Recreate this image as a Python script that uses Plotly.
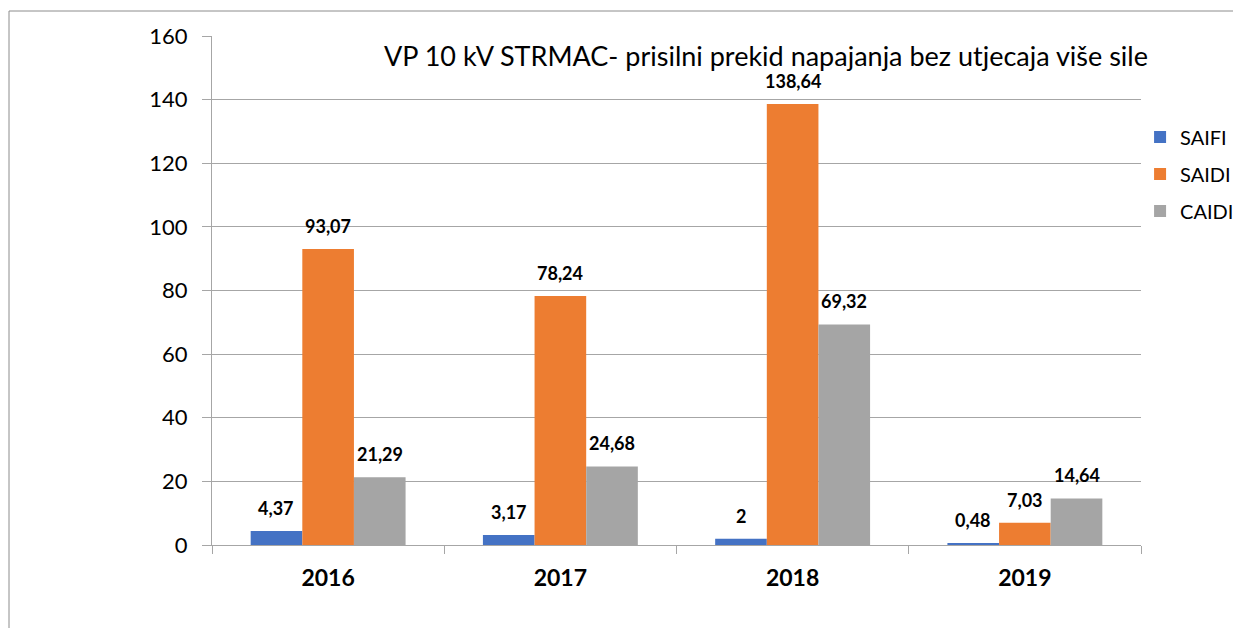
import plotly.graph_objects as go

years = ["2016", "2017", "2018", "2019"]
series_names = ["SAIFI", "SAIDI", "CAIDI"]
saifi = [4.37, 3.17, 2, 0.48]
saidi = [93.07, 78.24, 138.64, 7.03]
caidi = [21.29, 24.68, 69.32, 14.64]
colors = ["#4472C4", "#ED7D31", "#A5A5A5"]
title_text = "VP 10 kV STRMAC- prisilni prekid napajanja bez utjecaja više sile"

FONT = "Lato"
values = [saifi, saidi, caidi]

fig = go.Figure()
for i, (name, vals) in enumerate(zip(series_names, values)):
    fig.add_trace(go.Bar(
        x=years, y=vals, name=name, marker_color=colors[i],
        marker_line_width=0, legendgroup=name,
    ))

# page body has an 8px margin; figure coordinates are reference minus 8
FW, FH = 1233, 620
L, T = 204, 28
R = FW - 1133
B = FH - 537
W = FW - L - R
H = FH - T - B
bar_px = W / 4 * (1 - 0.333) / 3
for i, vals in enumerate(values):
    for j, v in enumerate(vals):
        fig.add_annotation(
            x=j, y=v, text=f"<b>{v:g}</b>".replace(".", ","), showarrow=False,
            xshift=(i - 1) * bar_px, yshift=23, yanchor="middle", borderpad=0,
            font=dict(family=FONT, size=18, color="black"),
        )

fig.add_annotation(
    xref="paper", yref="paper", x=0.596, y=(537 - 48) / H, text=title_text,
    showarrow=False, xanchor="center", yanchor="middle", borderpad=0,
    font=dict(family=FONT, size=27, color="black"),
)

# outer chart border
fig.add_shape(type="line", xref="paper", yref="paper",
              x0=(1 - L) / W, x1=1.3, y0=(537 - 3) / H, y1=(537 - 3) / H,
              line=dict(color="#8c8c8c", width=1))
fig.add_shape(type="line", xref="paper", yref="paper",
              x0=(1 - L) / W, x1=(1 - L) / W, y0=-0.3, y1=(537 - 3) / H,
              line=dict(color="#8c8c8c", width=1))

fig.update_layout(
    width=FW, height=FH,
    margin=dict(l=L, r=R, t=T, b=B, autoexpand=False),
    paper_bgcolor="white", plot_bgcolor="white",
    barmode="group", bargap=0.333, bargroupgap=0,
    font=dict(family=FONT, color="black"),
    legend=dict(x=0.999, y=0.84, xanchor="left", yanchor="top",
                font=dict(family=FONT, size=20), tracegroupgap=8,
                bgcolor="rgba(0,0,0,0)"),
    showlegend=True,
)
fig.update_yaxes(
    range=[0, 160], dtick=20, showgrid=True, gridcolor="#A6A6A6", gridwidth=1,
    showline=True, linecolor="#A6A6A6", linewidth=1,
    ticks="outside", ticklen=9, tickcolor="#A6A6A6",
    tickfont=dict(family=FONT, size=22, color="black"), ticklabelstandoff=10,
    zeroline=False,
)
fig.update_xaxes(
    type="category", range=[-0.5, 3.5],
    showline=True, linecolor="#A6A6A6", linewidth=1,
    ticks="outside", ticklen=8, tickcolor="#A6A6A6", tickson="boundaries",
    tickfont=dict(family=FONT, size=23, color="black"), tickangle=0,
    tickprefix="<b>", ticksuffix="</b>", ticklabelstandoff=12,
)

fig.write_html("out.html")
